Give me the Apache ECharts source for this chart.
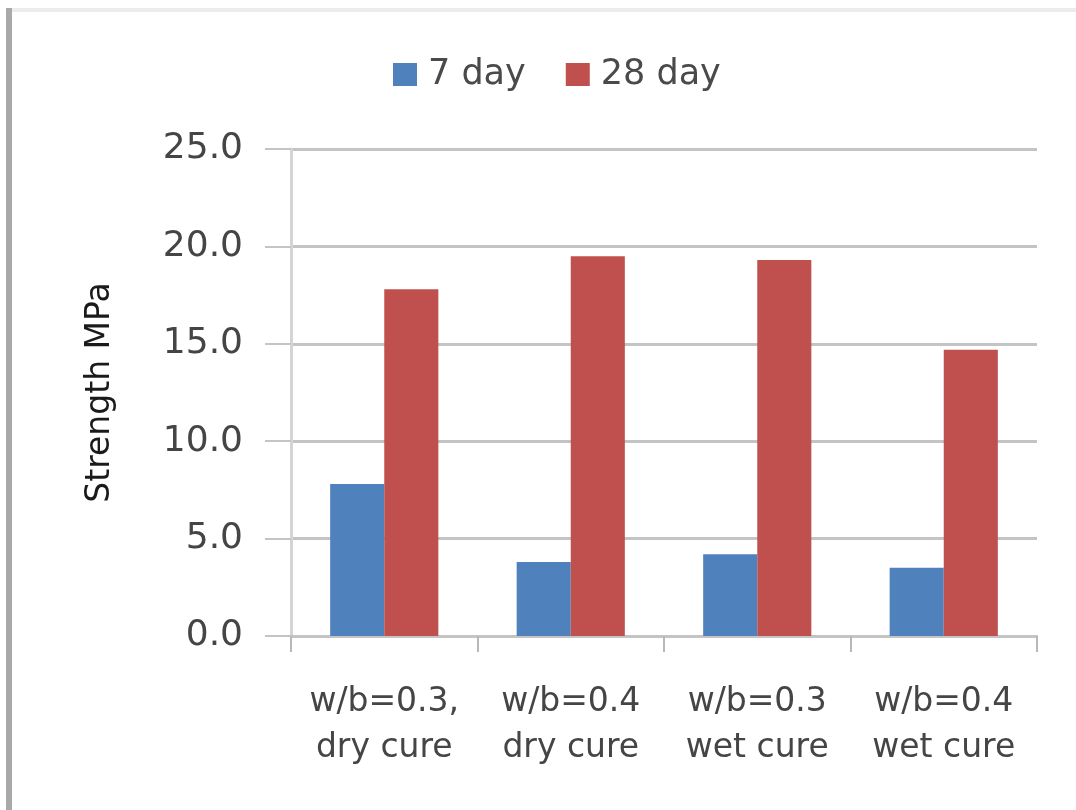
<!DOCTYPE html>
<html>
<head>
<meta charset="utf-8">
<script src="https://cdn.jsdelivr.net/npm/echarts@6/dist/echarts.min.js"></script>
<style>
html,body{margin:0;padding:0;background:#fff;}
#wrap{position:absolute;left:0;top:0;width:1076px;height:810px;background:#fff;}
#lineL{position:absolute;left:6px;top:8px;width:6px;height:802px;background:#a9a9a9;}
#lineT{position:absolute;left:12px;top:8px;width:1064px;height:4px;background:#ececec;}
#chart{position:absolute;left:0;top:0;width:1076px;height:810px;}
</style>
</head>
<body>
<div id="wrap">
<div id="chart"></div>
<div id="lineL"></div>
<div id="lineT"></div>
</div>
<script>
const categories = ["w/b=0.3,\ndry cure", "w/b=0.4\ndry cure", "w/b=0.3\nwet cure", "w/b=0.4\nwet cure"];
const seriesNames = ["7 day", "28 day"];
const day7 = [7.8, 3.8, 4.2, 3.5];
const day28 = [17.8, 19.5, 19.3, 14.7];
const yTicks = {min: 0, max: 25, interval: 5};

const font = '"DejaVu Sans", Verdana, sans-serif';
const chart = echarts.init(document.getElementById('chart'), null, {renderer: 'canvas'});
chart.setOption({
  animation: false,
  backgroundColor: 'transparent',
  color: ['#4F81BD', '#C0504D'],
  legend: {
    data: seriesNames,
    top: 52,
    left: 388,
    itemWidth: 24,
    itemHeight: 23,
    itemGap: 40,
    icon: 'rect',
    textStyle: {fontSize: 35, color: '#4a4a4a', fontFamily: font, padding: [0, 0, 0, 6]}
  },
  grid: {left: 291, right: 39, top: 149, bottom: 174, containLabel: false},
  xAxis: {
    type: 'category',
    data: categories,
    axisLine: {lineStyle: {color: '#c4c4c4', width: 2}},
    axisTick: {show: true, alignWithLabel: false, length: 16, lineStyle: {color: '#b8b8b8', width: 2}},
    axisLabel: {fontSize: 33, lineHeight: 46, margin: 43, color: '#454545', fontFamily: font, interval: 0}
  },
  yAxis: {
    type: 'value',
    min: yTicks.min, max: yTicks.max, interval: yTicks.interval,
    name: 'Strength MPa',
    nameLocation: 'middle',
    nameGap: 174,
    nameTextStyle: {fontSize: 33, color: '#1a1a1a', fontFamily: font},
    axisLine: {show: true, lineStyle: {color: '#d4d4d4', width: 3}},
    axisTick: {show: true, inside: false, length: 26, lineStyle: {color: '#c4c4c4', width: 2}},
    splitLine: {show: true, lineStyle: {color: '#c4c4c4', width: 3}},
    axisLabel: {fontSize: 36, margin: 48, color: '#454545', fontFamily: font,
      formatter: v => v.toFixed(1)}
  },
  series: [
    {name: seriesNames[0], type: 'bar', data: day7, barGap: '0%', barCategoryGap: '42%'},
    {name: seriesNames[1], type: 'bar', data: day28, barGap: '0%', barCategoryGap: '42%'}
  ]
});
</script>
</body>
</html>
